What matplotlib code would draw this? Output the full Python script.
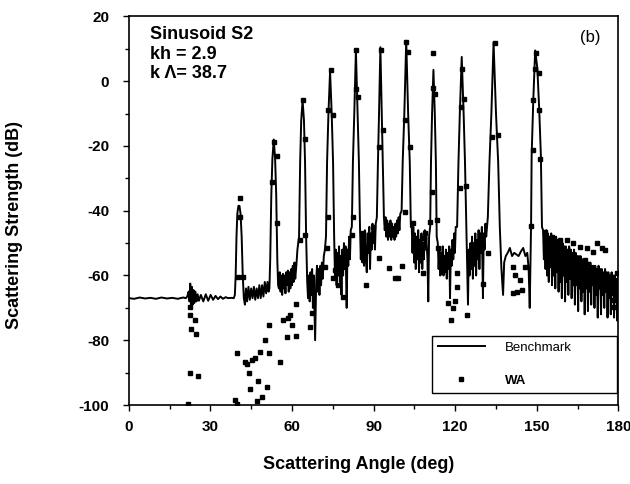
import numpy as np
import matplotlib
matplotlib.use("Agg")
import matplotlib.pyplot as plt
from matplotlib.ticker import MultipleLocator

plt.rcParams['font.family'] = ['Liberation Sans', 'DejaVu Sans']
plt.rcParams['axes.unicode_minus'] = False

# Benchmark curve (angle in deg, strength in dB)
bench_angle = [
    0.0, 2.0, 4.0, 6.0, 8.0, 10.0, 12.0, 14.0, 16.0, 18.0, 20.0, 21.0,
    21.5, 22.0, 22.3, 22.6, 22.9, 23.2, 23.5, 23.8, 24.1, 24.5, 24.9, 25.3, 25.8,
    26.5, 27.4, 28.3, 29.2, 30.1, 31.0, 31.9, 32.8, 33.7, 34.6, 35.6, 36.6, 37.6, 38.6,
    39.0, 39.3, 39.6, 39.9, 40.3, 40.7, 41.1, 41.5, 41.9, 42.3,
    42.7, 43.1, 43.5, 44.0, 44.5, 45.0, 45.5, 46.0, 46.5, 47.0, 47.5, 48.0, 48.5, 49.0, 49.5, 50.0, 50.5, 51.0, 51.4,
    51.7, 52.0, 52.4, 52.8, 53.3, 53.8, 54.2, 54.6, 54.9,
    55.2, 55.5, 55.8, 56.1, 56.4, 56.7, 57.0, 57.3, 57.6, 57.9, 58.2, 58.5, 58.8, 59.1, 59.4, 59.7, 60.0, 60.3, 60.6, 60.9, 61.2, 61.6, 62.0,
    62.6, 63.0, 63.4, 63.9, 64.4, 64.8, 65.2,
    65.6, 65.9, 66.2, 66.5, 66.8, 67.1, 67.4, 67.7, 68.0, 68.5, 68.9, 69.2, 69.5, 69.8, 70.1, 70.4, 70.7, 71.0, 71.3, 71.7, 72.1,
    72.5, 72.9, 73.4, 74.0, 74.6, 75.1, 75.5,
    75.8, 76.1, 76.4, 76.7, 77.0, 77.3, 77.6, 77.9, 78.2, 78.5, 78.8, 79.1, 79.4, 79.7, 80.1, 80.4, 80.7, 81.0, 81.3, 81.6,
    82.0, 82.4, 82.9, 83.5, 84.1, 84.6, 85.0,
    85.3, 85.6, 85.9, 86.2, 86.5, 86.8, 87.1, 87.5, 87.8, 88.1, 88.4, 88.7, 89.0, 89.3, 89.6, 89.9, 90.2, 90.5, 90.8,
    91.2, 91.6, 92.0, 92.5, 93.0, 93.4, 93.8,
    94.1, 94.4, 94.7, 95.0, 95.3, 95.6, 95.9, 96.2, 96.5, 96.8, 97.1, 97.4, 97.7, 98.0, 98.3, 98.6, 98.9, 99.2, 99.5, 99.8,
    100.3, 100.7, 101.3, 102.0, 102.7, 103.3, 103.7,
    104.0, 104.3, 104.6, 104.9, 105.2, 105.5, 105.8, 106.1, 106.4, 106.7, 107.0, 107.3, 107.6, 107.9, 108.2, 108.5, 108.8, 109.1, 109.4, 109.8, 110.1, 110.4,
    110.8, 111.1, 111.5, 112.0, 112.5, 112.9, 113.2,
    113.6, 113.9, 114.2, 114.5, 114.8, 115.1, 115.4, 115.7, 116.0, 116.3, 116.6, 116.9, 117.2, 117.5, 117.8, 118.1, 118.4, 118.7, 119.0, 119.3, 119.6, 119.9, 120.2,
    120.7, 121.2, 121.7, 122.4, 123.1, 123.6, 124.1,
    124.4, 124.7, 125.0, 125.3, 125.6, 125.9, 126.2, 126.5, 126.8, 127.1, 127.4, 127.7, 128.0, 128.3, 128.6, 128.9, 129.2, 129.5, 129.8, 130.2, 130.5, 130.8, 131.1, 131.4,
    132.0, 132.6, 133.3, 134.1, 135.0, 135.8, 136.4,
    137.0, 137.6, 138.0, 138.6, 139.3, 140.1, 140.9, 141.7, 142.5, 143.3, 144.2, 145.0, 145.8, 146.5, 147.0, 147.4,
    147.9, 148.1, 148.7, 149.4, 150.2, 150.9, 151.5, 151.9,
    152.3, 152.6, 152.9, 153.2, 153.5, 153.8, 154.1, 154.4, 154.7, 155.0, 155.3, 155.6, 155.9, 156.2, 156.5, 156.8,
    157.1, 157.4, 157.7, 158.0, 158.3, 158.6, 158.9, 159.2, 159.5, 159.8, 160.1, 160.4, 160.7, 161.0, 161.3, 161.6,
    161.9, 162.2, 162.5, 162.8, 163.1, 163.4, 163.7, 164.0, 164.3, 164.6, 164.9, 165.2, 165.5, 165.8, 166.1, 166.4,
    166.7, 167.0, 167.3, 167.6, 167.9, 168.2, 168.5, 168.8, 169.1, 169.4, 169.7, 170.0, 170.3, 170.6, 170.9, 171.2,
    171.5, 171.8, 172.1, 172.4, 172.7, 173.0, 173.3, 173.6, 173.9, 174.2, 174.5, 174.8, 175.1, 175.4, 175.7, 176.0,
    176.3, 176.6, 176.9, 177.2, 177.5, 177.8, 178.1, 178.4, 178.7, 179.0, 179.3, 179.6, 180.0,
]
bench_db = [
    -67.0, -67.2, -66.8, -67.1, -66.9, -67.2, -66.8, -67.1, -66.9, -67.2, -66.8, -67.0,
    -66.5, -65.0, -68.0, -62.5, -70.0, -63.5, -69.0, -64.5, -68.5, -65.0, -68.0, -65.8, -67.8,
    -66.0, -68.0, -65.8, -67.8, -66.0, -67.5, -66.3, -67.3, -66.5, -67.2, -66.7, -67.0, -66.9, -67.0,
    -66.0, -60.0, -48.0, -41.0, -38.5, -38.5, -41.0, -48.0, -60.0, -67.0,
    -69.0, -64.0, -68.0, -63.5, -67.5, -64.0, -67.0, -63.5, -67.5, -64.0, -67.0, -63.0, -67.0, -63.0, -66.5, -62.0, -65.5, -62.0, -65.0,
    -64.0, -55.0, -35.0, -24.0, -18.0, -24.0, -35.0, -55.0, -63.0,
    -64, -59, -65, -60, -66, -59.5, -64, -60, -65.5, -59, -63, -58.5, -65, -59, -64, -58, -63, -57, -62, -56, -61, -57, -52,
    -48, -25, -12, -6, -12, -25, -48,
    -62, -67, -60, -68, -59, -66, -58, -70, -60, -80, -62, -57, -65, -58, -66, -57, -63, -56, -61, -54, -52,
    -48, -25, -10, 3, -10, -25, -48,
    -60, -52, -63, -53, -60, -51, -62, -54, -66, -52, -60, -50, -58, -51, -70, -52, -57, -48, -55, -46,
    -45, -25, -10, 9.5, -10, -25, -45,
    -55, -47, -56, -48, -57, -46, -54, -59, -47, -53, -45, -58, -47, -52, -44, -50, -45, -52, -44,
    -42, -25, -10, 10.5, -10, -25, -42,
    -46, -42, -48, -43, -49, -44, -48, -43, -49, -44, -48, -45, -49, -44, -48, -43, -47, -42, -46, -41,
    -40, -25, -10, 12.5, -10, -25, -45,
    -44, -53, -45, -56, -47, -58, -48, -55, -46, -59, -49, -56, -47, -58, -50, -55, -46, -52, -48, -55, -68, -48,
    -45, -25, -10, 3.5, -10, -25, -48,
    -50, -58, -52, -60, -53, -58, -51, -60, -54, -59, -52, -61, -53, -58, -51, -67, -52, -57, -49, -55, -47, -53, -45,
    -45, -25, -10, 7.5, -10, -25, -45,
    -58, -69, -52, -60, -50, -58, -48, -61, -50, -57, -47, -60, -49, -55, -46, -58, -47, -53, -45, -67, -47, -52, -44, -48,
    -42, -25, -10, 12, -10, -25, -45,
    -58, -66, -56, -54, -53, -51.5, -54, -53, -53.5, -54, -52.5, -51.5, -54, -53, -58, -70,
    -44, -23, -6, 9.5, 4, -9, -23, -45,
    -46, -55, -47, -58, -46, -60, -47, -62, -48, -57, -47, -63, -48, -60, -49, -64,
    -48, -59, -49, -65, -50, -62, -49, -67, -50, -60, -51, -68, -51, -62, -52, -66,
    -51, -61, -52, -67, -53, -63, -52, -69, -53, -63, -54, -71, -54, -64, -54, -68,
    -55, -65, -55, -72, -55, -64, -56, -71, -56, -65, -56, -69, -57, -63, -57, -70,
    -57, -66, -58, -73, -57, -64, -58, -72, -58, -66, -59, -70, -58, -65, -59, -73,
    -59, -67, -60, -72, -59, -66, -60, -73, -60, -68, -61, -74, -59,
]

# WA points
wa_angle = [
    22.5, 22.5, 24.3, 22.9, 24.7, 22.5, 25.6, 21.9,
    40.9, 40.9, 40.0, 42.1, 39.7, 42.7, 43.6, 45.2, 46.4, 48.2, 50.1, 51.5,
    44.2, 47.6, 44.6, 50.9, 48.9, 47.0, 39.0, 39.7, 51.7, 55.6, 54.6,
    58.1, 61.5, 56.8, 58.4, 59.3, 59.9, 61.5, 53.5, 54.4, 52.8,
    67.2, 66.6, 75.2, 77.0, 87.1, 91.9, 64.8, 62.9,
    73.3, 72.8, 72.1, 75.8, 78.9, 81.9, 82.5, 86.2, 89.9,
    95.8, 100.3, 97.9, 99.1, 101.5, 104.4, 107.7, 108.9, 105.8, 110.7, 113.2, 111.6,
    108.3, 113.8, 115.0, 120.6, 120.8, 117.5, 119.9, 119.1, 118.3, 124.4, 121.8, 124.0, 125.2,
    130.3, 132.2, 148.7, 151.2, 147.8, 141.1, 142.0, 143.8, 145.7, 142.6, 144.4, 141.4,
    155.5, 154.9, 158.5, 161.0, 163.4, 165.9, 168.3, 172.0, 173.9, 175.1, 179.4, 178.4, 178.4,
    170.8, 167.7, 153.0,
    63.9, 64.8, 74.2, 73.3, 75.0, 83.5, 83.5, 84.2, 92.6, 92.1, 93.6,
    101.9, 102.8, 101.5, 103.5, 111.8, 111.7, 112.6, 122.4, 122.0, 123.2,
    134.6, 133.4, 135.8, 149.7, 149.3, 150.7, 148.7, 150.9,
]
wa_db = [
    -69.6, -72.2, -73.7, -76.6, -78.1, -90.0, -91.0, -99.7,
    -36.2, -41.8, -60.4, -60.4, -83.8, -86.6, -87.4, -86.1, -85.6, -83.5, -79.9, -84.0,
    -90.2, -92.5, -95.1, -94.3, -97.4, -98.7, -98.5, -99.7, -75.3, -86.6, -43.9,
    -79.1, -78.7, -73.7, -73.2, -72.2, -75.3, -68.8, -18.7, -23.0, -31.0,
    -71.7, -75.8, -60.9, -62.9, -62.9, -54.7, -47.5, -49.0,
    -41.8, -51.6, -57.3, -58.3, -66.5, -47.5, -41.8, -47.0, -44.9,
    -57.8, -57.1, -60.9, -60.7, -40.3, -43.7, -48.5, -47.0, -52.1, -43.4, -42.9, -34.1,
    -59.3, -51.6, -58.8, -59.3, -63.5, -68.4, -67.8, -70.1, -73.7, -72.1, -33.1, -32.4, -54.2,
    -62.6, -53.1, -21.2, -24.1, -44.7, -57.3, -59.8, -61.4, -57.3, -65.0, -64.5, -65.5,
    -48.0, -56.8, -49.0, -49.0, -50.1, -51.1, -51.6, -50.1, -51.6, -52.1, -59.3, -67.6, -69.6,
    -52.6, -55.2, -46.6,
    -5.8, -17.9, 3.5, -8.9, -10.4, 9.7, -2.5, -5.0, 9.7, -20.2, -15.1,
    12.2, 9.1, -12.0, -20.2, 8.6, -2.2, -3.9, 3.7, -8.0, -5.6,
    11.7, -17.1, -16.6, 8.6, 3.7, 2.6, -5.8, -8.9,
]

fig = plt.figure(figsize=(6.3, 4.84), dpi=100)
ax = fig.add_axes([0.2044, 0.1632, 0.7772, 0.8028])

ax.plot(bench_angle, bench_db, color='black', lw=1.4, label='Benchmark', zorder=2)
ax.plot(wa_angle, wa_db, ls='none', marker='s', ms=3.4, color='black', label='WA', zorder=3)

ax.set_xlim(0, 180)
ax.set_ylim(-100, 20)
ax.xaxis.set_major_locator(MultipleLocator(30))
ax.xaxis.set_minor_locator(MultipleLocator(15))
ax.yaxis.set_major_locator(MultipleLocator(20))
ax.yaxis.set_minor_locator(MultipleLocator(10))

for s in ax.spines.values():
    s.set_linewidth(1.2)
ax.tick_params(which='both', direction='out', width=1.0, top=False, right=False)
ax.tick_params(which='major', length=4)
ax.tick_params(which='minor', length=3)
ax.tick_params(axis='x', which='major', pad=7, labelsize=11)
ax.tick_params(axis='y', which='major', pad=10, labelsize=11)
for lab in ax.get_xticklabels() + ax.get_yticklabels():
    lab.set_fontweight('bold')

ax.set_xlabel('Scattering Angle (deg)', fontsize=13, fontweight='bold')
ax.set_ylabel('Scattering Strength (dB)', fontsize=13, fontweight='bold')
ax.xaxis.set_label_coords(0.469, -0.132)
ax.yaxis.set_label_coords(-0.216, 0.463)

ax.text(0.043, 0.975, 'Sinusoid S2\nkh = 2.9\nk \u039b= 38.7', transform=ax.transAxes,
        ha='left', va='top', fontsize=13, fontweight='bold', linespacing=1.2)
ax.text(0.942, 0.947, '(b)', transform=ax.transAxes, ha='center', va='center', fontsize=12)

leg = ax.legend(loc='lower left', bbox_to_anchor=(0.619, 0.032, 0.3775, 0.151), mode='expand',
                fontsize=9.5, handlelength=3.56, handletextpad=1.5, labelspacing=1.57,
                borderpad=0.45, borderaxespad=0, numpoints=1, fancybox=False,
                framealpha=1, edgecolor='black')
leg.get_frame().set_linewidth(1.0)
leg.get_texts()[1].set_fontweight('bold')

fig.savefig('out.png', dpi=100)
